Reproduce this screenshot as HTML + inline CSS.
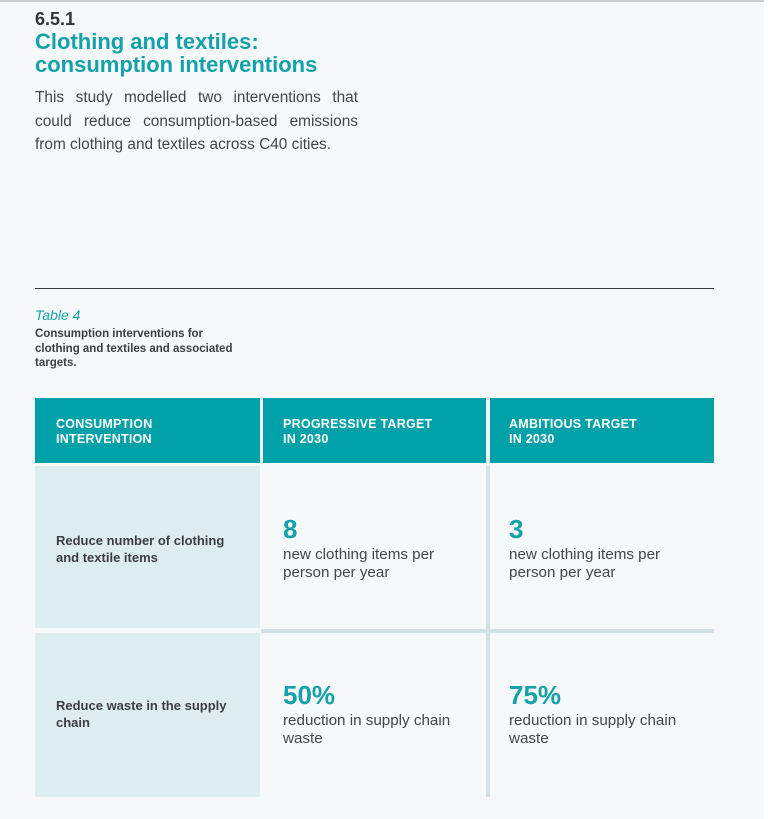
<!DOCTYPE html>
<html>
<head>
<meta charset="utf-8">
<style>
  html, body { margin:0; padding:0; }
  body { width:768px; height:819px; background:#ffffff; position:relative; overflow:hidden;
         font-family:"Liberation Sans", Arial, sans-serif; }
  .page { position:absolute; left:0; top:0; width:764px; height:819px; background:#f5f9fa; }
  .topline { position:absolute; left:0; top:0; width:764px; height:2px; background:#c9cbcc; }
  .abs { position:absolute; white-space:nowrap; }
  .sec { left:35px; top:10px; font-size:18px; line-height:18px; font-weight:bold; color:#333338; }
  .title { left:35px; top:30px; font-size:22px; line-height:23px; font-weight:bold; color:#14a1a9; }
  .pl { position:absolute; left:35px; width:323px; font-size:15.4px; line-height:23.5px; color:#45454b; white-space:nowrap; }
  .pj { text-align:justify; text-align-last:justify; white-space:normal; }
  .rule { position:absolute; left:35px; top:288px; width:679px; height:1px; background:#3a3a3e; }
  .tlabel { left:35px; top:307px; font-size:14px; line-height:16px; font-style:italic; color:#14a1a9; }
  .caption { left:35px; top:327px; font-size:11.5px; line-height:14.5px; font-weight:bold; color:#3d3d44; }
  .hcell { position:absolute; top:398px; height:65px; background:#00a1a9; }
  .htext { position:absolute; top:19px; left:21px; font-size:12.5px; line-height:15px; font-weight:bold;
           color:#ffffff; letter-spacing:0.25px; white-space:nowrap; }
  .c1 { position:absolute; left:35px; width:225px; background:#ddedf0; }
  .rowtxt { position:absolute; left:21px; font-size:13px; line-height:17px; font-weight:bold; color:#3d3d44; white-space:nowrap; }
  .vline { position:absolute; left:486px; top:466px; width:4px; height:331px; background:#d2e3e7; }
  .hline { position:absolute; left:261px; top:629px; width:453px; height:4px; background:#d2e3e7; }
  .big { position:absolute; font-size:26px; line-height:26px; font-weight:bold; color:#14a1a9; white-space:nowrap; }
  .desc { position:absolute; font-size:15.2px; line-height:17.5px; color:#45454b; white-space:nowrap; }
</style>
</head>
<body>
<div class="page">
  <div class="topline"></div>
  <div class="abs sec">6.5.1</div>
  <div class="abs title">Clothing and textiles:<br>consumption interventions</div>
  <div class="pl pj" style="top:86px;">This study modelled two interventions that</div>
  <div class="pl pj" style="top:109.5px;">could reduce consumption-based emissions</div>
  <div class="pl" style="top:133px;">from clothing and textiles across C40 cities.</div>

  <div class="rule"></div>
  <div class="abs tlabel">Table 4</div>
  <div class="abs caption">Consumption interventions for<br>clothing and textiles and associated<br>targets.</div>

  <div class="hcell" style="left:35px;width:225px;"><div class="htext">CONSUMPTION<br>INTERVENTION</div></div>
  <div class="hcell" style="left:263px;width:223px;"><div class="htext" style="left:20px;">PROGRESSIVE TARGET<br>IN 2030</div></div>
  <div class="hcell" style="left:490px;width:224px;"><div class="htext" style="left:19px;">AMBITIOUS TARGET<br>IN 2030</div></div>

  <div class="c1" style="top:466px;height:162px;"><div class="rowtxt" style="top:66px;">Reduce number of clothing<br>and textile items</div></div>
  <div class="c1" style="top:633px;height:164px;"><div class="rowtxt" style="top:64px;">Reduce waste in the supply<br>chain</div></div>

  <div class="vline"></div>
  <div class="hline"></div>

  <div class="big" style="left:283px;top:516px;">8</div>
  <div class="desc" style="left:283px;top:546px;">new clothing items per<br>person per year</div>
  <div class="big" style="left:509px;top:516px;">3</div>
  <div class="desc" style="left:509px;top:546px;">new clothing items per<br>person per year</div>

  <div class="big" style="left:283px;top:682px;">50%</div>
  <div class="desc" style="left:283px;top:712px;">reduction in supply chain<br>waste</div>
  <div class="big" style="left:509px;top:682px;">75%</div>
  <div class="desc" style="left:509px;top:712px;">reduction in supply chain<br>waste</div>
</div>
</body>
</html>
